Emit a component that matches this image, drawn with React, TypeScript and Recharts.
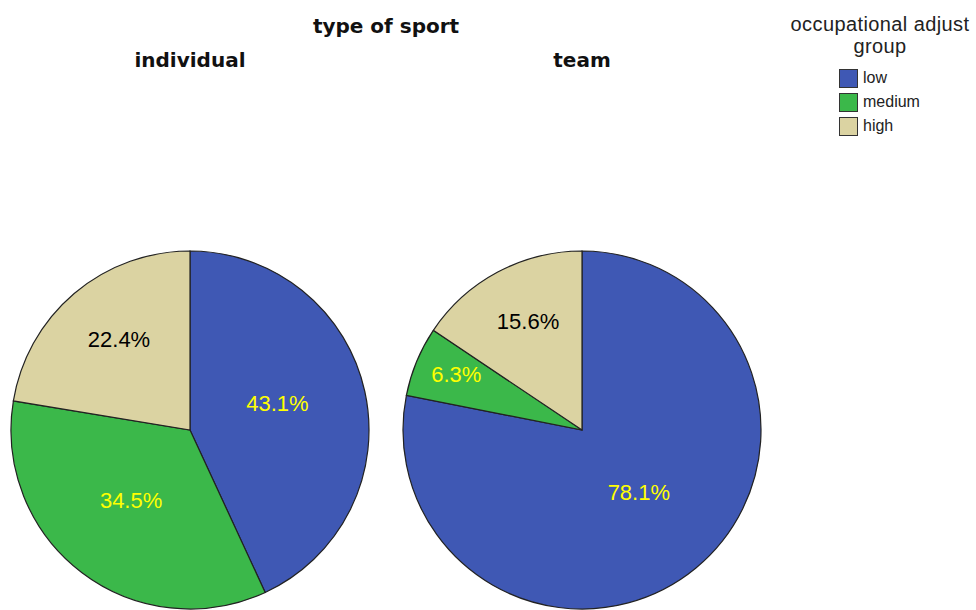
import React from "react";
import { PieChart, Pie, Cell, Legend } from "recharts";

const CATEGORIES = ["low", "medium", "high"];
const INDIVIDUAL = [43.1, 34.5, 22.4];
const TEAM = [78.1, 6.3, 15.6];
const PANELS = ["individual", "team"];

const COLORS = ["#3f58b4", "#3bb84a", "#dbd3a2"];
const LABEL_COLORS = ["#ffff00", "#ffff00", "#000000"];
const RADIAN = Math.PI / 180;

const toData = (values: number[]) =>
  CATEGORIES.map((name, i) => ({ name, value: values[i] }));

// SPSS puts labels near the slice centroid, never too close to the center
const renderLabel = (props: any) => {
  const { cx, cy, midAngle, outerRadius, percent, index } = props;
  const half = Math.PI * percent;
  let r = (2 * outerRadius * Math.sin(half)) / (3 * half);
  r = Math.max(r, outerRadius * 0.5);
  let dy = -7;
  if (percent < 0.1) {
    r = outerRadius * 0.76;
    dy = -3;
  }
  const x = cx + r * Math.cos(-midAngle * RADIAN);
  const y = cy + r * Math.sin(-midAngle * RADIAN) + dy;
  return (
    <text
      x={x}
      y={y}
      fill={LABEL_COLORS[index]}
      textAnchor="middle"
      dominantBaseline="central"
      fontSize={22}
      fontFamily="'Liberation Sans', Arial, sans-serif"
    >
      {`${(percent * 100).toFixed(1)}%`}
    </text>
  );
};

const LegendBox = () => (
  <div style={{ fontFamily: "'Liberation Sans', Arial, sans-serif", color: "#222" }}>
    <div style={{ textAlign: "center", fontSize: 20, lineHeight: "22px", letterSpacing: 0.4 }}>
      occupational adjust
      <br />
      group
    </div>
    <div style={{ marginLeft: 59, marginTop: 9 }}>
      {CATEGORIES.map((c, i) => (
        <div key={c} style={{ display: "flex", alignItems: "center", height: 24 }}>
          <span
            style={{
              width: 17,
              height: 17,
              background: COLORS[i],
              border: "1px solid #333",
              display: "inline-block",
              marginRight: 5,
            }}
          />
          <span style={{ fontSize: 16 }}>{c}</span>
        </div>
      ))}
    </div>
  </div>
);

const titleStyle: React.CSSProperties = {
  position: "absolute",
  fontFamily: "'DejaVu Sans', Verdana, sans-serif",
  fontWeight: "bold",
  fontSize: 20,
  color: "#111",
  transform: "translate(-50%, -50%)",
  whiteSpace: "nowrap",
};

export default function App() {
  const datasets = [toData(INDIVIDUAL), toData(TEAM)];
  const centers = [190, 582];
  return (
    <div style={{ position: "absolute", left: 0, top: 0, width: 976, height: 610, background: "#fff" }}>
      <div style={{ ...titleStyle, left: 386, top: 26 }}>type of sport</div>
      {PANELS.map((p, i) => (
        <div key={p} style={{ ...titleStyle, left: centers[i], top: 60 }}>
          {p}
        </div>
      ))}
      <PieChart
        width={976}
        height={610}
        margin={{ top: 0, right: 0, bottom: 0, left: 0 }}
        style={{ position: "absolute", left: 0, top: 0 }}
      >
        {datasets.map((data, k) => (
          <Pie
            key={PANELS[k]}
            data={data}
            dataKey="value"
            nameKey="name"
            cx={centers[k]}
            cy={430}
            outerRadius={179}
            startAngle={90}
            endAngle={-270}
            stroke="#222"
            strokeWidth={1.2}
            label={renderLabel}
            labelLine={false}
            isAnimationActive={false}
          >
            {data.map((_, i) => (
              <Cell key={`cell-${k}-${i}`} fill={COLORS[i]} />
            ))}
          </Pie>
        ))}
        <Legend
          content={<LegendBox />}
          wrapperStyle={{ position: "absolute", left: 780, top: 13, width: 200 }}
        />
      </PieChart>
    </div>
  );
}
